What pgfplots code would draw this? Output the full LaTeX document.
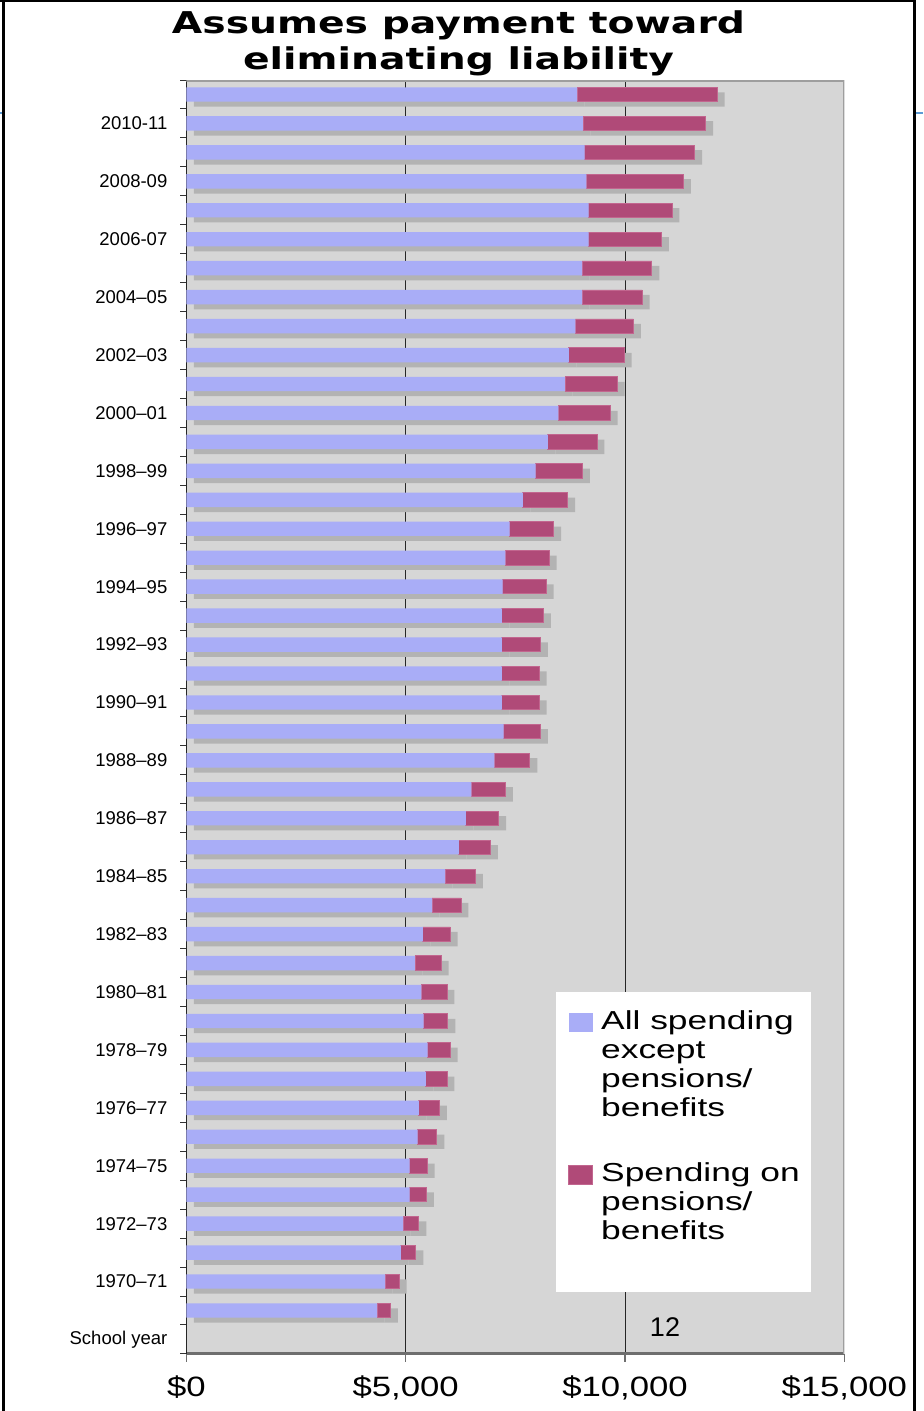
\documentclass[border=0pt]{standalone}
\usepackage{fontspec}
\setmainfont{Liberation Sans}
\newfontfamily\titlefont{DejaVu Sans}
\usepackage{graphicx}
\usepackage{pgfplots}
\usepackage{pgfplotstable}
\pgfplotsset{compat=1.18}

\definecolor{plotbg}{HTML}{D6D6D6}
\definecolor{shadowgray}{HTML}{B3B3B3}
\definecolor{barblue}{HTML}{A9ADF7}
\definecolor{barpink}{HTML}{B04A78}
\definecolor{barpinkedge}{HTML}{C2668F}
\definecolor{frameline}{HTML}{9E9E9E}
\definecolor{axisdark}{HTML}{6E6E6E}
\definecolor{slideblue}{HTML}{5B9BD5}

% horizontally widened text
\newcommand\wide[2]{\scalebox{#1}[1]{#2}}
\newcommand\money[1]{\wide{1.24}{\$#1}}
\newcommand\legtext[1]{\smash{\wide{1.36}{\parbox[t]{76pt}{\fontsize{13pt}{14.5pt}\selectfont #1}}}}

% spending per pupil: row index (0 = "School year" row), spending except
% pensions/benefits, spending on pensions/benefits
\pgfplotstableread{
idx blue pension
43 8910 3190
42 9040 2800
41 9080 2510
40 9120 2210
39 9170 1900
38 9170 1660
37 9020 1590
36 9020 1370
35 8870 1320
34 8720 1260
33 8630 1190
32 8480 1180
31 8240 1120
30 7960 1070
29 7670 1020
28 7370 1000
27 7270 1000
26 7210 990
25 7190 950
24 7190 880
23 7190 850
22 7190 850
21 7230 840
20 7020 810
19 6500 770
18 6370 750
17 6210 720
16 5900 690
15 5600 660
14 5390 620
13 5210 600
12 5360 580
11 5410 550
10 5500 510
9 5460 480
8 5300 470
7 5270 440
6 5090 400
5 5090 380
4 4940 360
3 4890 340
2 4530 320
1 4350 300
}\spending

\pgfplotsset{
  spendaxis/.style={
    at={(93.2pt,-676.95pt)}, anchor=south west,
    scale only axis, width=328.95pt, height=636.95pt,
    xmin=0, xmax=15000, ymin=-0.5, ymax=43.5,
    enlargelimits=false, scaled ticks=false,
    xbar stacked, bar width=7.2pt,
  },
}

\begin{document}
\begin{tikzpicture}
\useasboundingbox (0,0) rectangle (461.5pt,-705.5pt);

% slide frame
\draw[black, line width=1pt] (0,-0.5pt) -- (457pt,-0.5pt);
\draw[black, line width=1.5pt] (1.75pt,0) -- (1.75pt,-705.5pt);
\draw[black, line width=1.5pt] (457pt,0) -- (457pt,-705.5pt);
\draw[slideblue, line width=1pt] (0,-56.5pt) -- (1pt,-56.5pt);
\draw[slideblue, line width=1pt] (458pt,-56.5pt) -- (461.5pt,-56.5pt);

% title
\node[anchor=base, font=\fontsize{15pt}{17pt}\titlefont\bfseries] at (229.25pt,-17pt) {\wide{1.31}{Assumes payment toward}};
\node[anchor=base, font=\fontsize{15pt}{17pt}\titlefont\bfseries] at (229.25pt,-35pt) {\wide{1.31}{eliminating liability}};

% plot area background and gridlines
\begin{axis}[spendaxis,
  axis background/.style={fill=plotbg},
  axis line style={draw=none},
  xtick={5000,10000}, xticklabels={}, ytick=\empty,
  major tick length=0pt,
  xmajorgrids, grid style={black!85, line width=0.5pt},
]
\end{axis}

% drop shadows of the bars
\begin{axis}[spendaxis, at={(96.95pt,-679.45pt)}, hide axis, clip=false]
\addplot[fill=shadowgray, draw=none] table[x=blue, y=idx] {\spending};
\addplot[fill=shadowgray, draw=none] table[x=pension, y=idx] {\spending};
\end{axis}

% bars, axes and legend
\begin{axis}[spendaxis,
  axis lines=left, axis line style={-},
  x axis line style={axisdark, line width=1.5pt},
  y axis line style={black!85, line width=0.75pt},
  tick align=outside,
  major tick length=4pt, minor tick length=3pt,
  xtick={0,5000,10000,15000},
  xticklabels={{\money{0}},{\money{5,000}},{\money{10,000}},{\money{15,000}}},
  xticklabel style={font=\fontsize{14pt}{16pt}\selectfont, yshift=-3.5pt},
  ytick={0,2,...,42},
  yticklabels={School year,1970–71,1972–73,1974–75,1976–77,1978–79,1980–81,1982–83,1984–85,1986–87,1988–89,1990–91,1992–93,1994–95,1996–97,1998–99,2000–01,2002–03,2004–05,2006-07,2008-09,2010-11},
  yticklabel style={font=\fontsize{9.25pt}{11pt}\selectfont, xshift=-2pt},
  minor ytick={-0.5,0.5,...,43.5},
  major y tick style={draw=none},
  minor y tick style={black!80, line width=0.5pt},
  major x tick style={axisdark, line width=0.75pt},
  legend image code/.code={\fill[#1] (0pt,-0.5pt) rectangle (12pt,9pt); \path (16pt,0pt);},
  legend cell align=left,
  legend style={at={(0.5800,0.2676)}, anchor=north west, draw=none, fill=none,
    inner sep=0pt, row sep=66pt, nodes={inner sep=0pt}},
]
\fill[white] (rel axis cs:0.5618,0.2841) rectangle (rel axis cs:0.9494,0.0486);
\draw[frameline, line width=1.6pt] (rel axis cs:0,1) -- (rel axis cs:1,1) -- (rel axis cs:1,0);
\addplot[fill=barblue, draw=none] table[x=blue, y=idx] {\spending};
\addlegendentry{\legtext{All spending\\except\\pensions/\\benefits}}
\addplot[fill=barpink, draw=barpinkedge, line width=0.4pt] table[x=pension, y=idx] {\spending};
\addlegendentry{\legtext{Spending on\\pensions/\\benefits}}
\end{axis}

% slide number
\node[anchor=base, font=\fontsize{13.5pt}{16pt}\selectfont] at (332.5pt,-668pt) {12};
\end{tikzpicture}
\end{document}
